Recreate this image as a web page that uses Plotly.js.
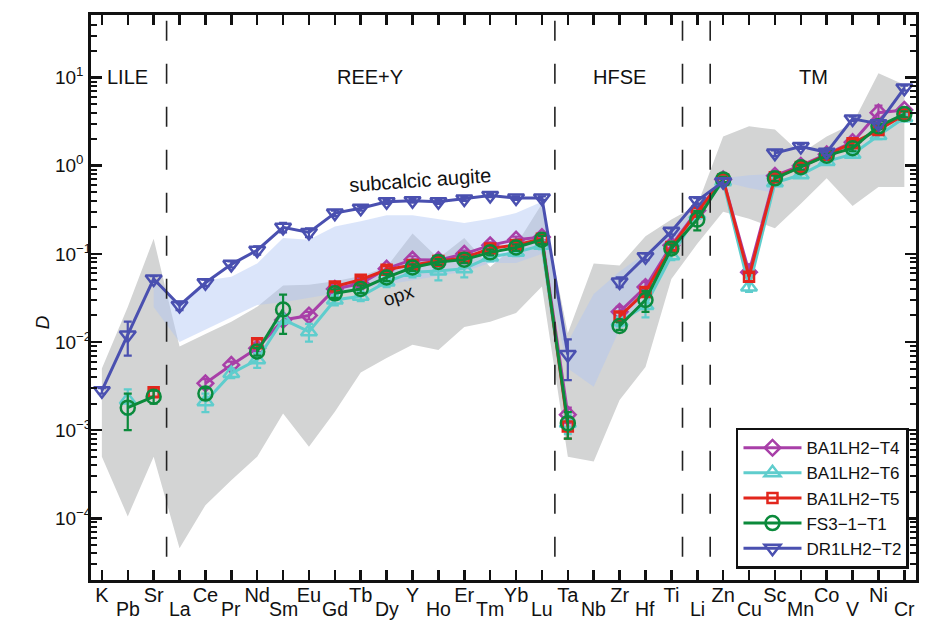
<!DOCTYPE html>
<html><head><meta charset="utf-8">
<script src="https://cdn.plot.ly/plotly-3.0.1.min.js"></script>
<style>html,body{margin:0;padding:0;background:#fff}#chart{width:927px;height:622px}</style>
</head><body><div id="chart"></div>
<script>
// ---- categories ----
const elements = ['K','Pb','Sr','La','Ce','Pr','Nd','Sm','Eu','Gd','Tb','Dy','Y','Ho','Er','Tm','Yb','Lu',
                  'Ta','Nb','Zr','Hf','Ti','Li','Zn','Cu','Sc','Mn','Co','V','Ni','Cr'];
const groupLabels = ['LILE','REE+Y','HFSE','TM'];
const groupCenters = [1, 10.35, 20, 27.5];
const groupDividers = [2.5, 17.5, 22.43, 23.5];
const yTickExponents = [-4, -3, -2, -1, 0, 1];

// ---- reference ranges (shaded) ----
const opxUpper = [0.005,0.025,0.148,0.0089,0.0123,0.017,0.0251,0.0437,0.0447,0.049,0.056,0.071,0.17,0.089,0.151,0.071,0.126,0.37,
                  0.0126,0.078,0.074,0.158,0.245,0.355,2.14,2.8,2.57,1.38,2.14,3.0,11.2,8.3];
const opxLower = [0.0005,0.000105,0.0005,0.0000457,0.000141,0.00027,0.0005,0.00155,0.00065,0.00162,0.0045,0.0066,0.0093,0.0081,0.0148,0.017,0.0214,0.0427,
                  0.0005,0.00044,0.0022,0.0052,0.052,0.13,0.30,0.25,0.195,0.37,0.72,0.35,0.575,0.575];
const augiteUpper = [null,null,0.047,0.026,0.050,0.055,0.078,0.151,0.145,0.204,0.234,0.275,0.275,0.25,0.224,0.25,0.29,0.39,
                     0.010,0.035,0.063,0.102,0.17,0.35,0.72,0.78,0.81,null,null,null,null,null];
const augiteLower = [null,null,0.025,0.010,0.0138,0.019,0.0263,0.0282,0.0316,0.0355,0.040,0.0447,0.050,0.056,0.063,0.079,0.079,0.10,
                     0.005,0.0031,0.014,0.035,0.10,0.25,0.66,0.56,0.49,null,null,null,null,null];

// ---- measured partition coefficients ----
const seriesNames = ['BA1LH2\u2212T4','BA1LH2\u2212T6','BA1LH2\u2212T5','FS3\u22121\u2212T1','DR1LH2\u2212T2'];
const dT4 = [null,null,null,null,0.0034,0.0055,0.0085,0.0178,0.020,0.040,0.046,0.068,0.086,0.085,0.100,0.125,0.145,0.155,
             0.0015,null,0.022,0.042,0.125,0.31,0.70,0.062,0.77,1.0,1.35,1.85,4.0,4.3];
const eT4 = [null,null,null,null,0.0004,0.0005,0.0008,0.002,0.002,0.004,0.004,0.006,0.008,0.007,0.009,0.010,0.012,0.013,
             0.0003,null,0.003,0.006,0.010,0.03,0.05,0.006,0.06,0.08,0.10,0.20,0.8,0.3];
const dT6 = [null,0.0022,null,null,0.0021,0.0044,0.0063,0.018,0.0131,0.030,0.033,0.048,0.062,0.064,0.068,0.092,0.104,0.125,
             0.0012,null,0.017,0.026,0.095,0.28,0.66,0.042,0.64,0.79,1.12,1.35,2.2,3.5];
const eT6 = [null,0.0007,null,null,0.0005,0.0005,0.0012,0.002,0.003,0.004,0.004,0.006,0.008,0.014,0.014,0.010,0.010,0.012,
             0.0003,null,0.002,0.007,0.010,0.03,0.05,0.005,0.05,0.06,0.08,0.10,0.2,0.3];
const dT5 = [null,null,0.0027,null,null,null,0.0097,null,null,0.0427,0.051,0.066,0.075,0.083,0.090,0.115,0.126,0.148,
             0.0011,null,0.0195,0.037,0.12,0.30,0.70,0.055,0.74,0.97,1.33,1.80,2.55,3.8];
const eT5 = [null,null,0.0003,null,null,null,0.001,null,null,0.004,0.004,0.006,0.007,0.007,0.008,0.010,0.011,0.013,
             0.0003,null,0.002,0.004,0.010,0.03,0.05,0.006,0.06,0.08,0.10,0.15,0.2,0.3];
const dFS3 = [null,0.0018,0.0024,null,0.0026,null,0.0078,0.0234,null,0.0357,0.040,0.054,0.070,0.081,0.086,0.104,0.118,0.145,
              0.0012,null,0.0152,0.030,0.115,0.245,0.70,null,0.72,0.96,1.30,1.58,2.8,3.85];
const eFS3 = [null,0.0008,0.0004,null,0.0004,null,0.0008,0.011,null,0.004,0.004,0.005,0.006,0.006,0.007,0.008,0.010,0.015,
              0.0004,null,0.0015,0.008,0.012,0.06,0.05,null,0.05,0.06,0.08,0.12,0.2,0.3];
const dDR1 = [0.0028,0.012,0.052,0.026,0.047,0.076,0.11,0.20,0.175,0.29,0.33,0.39,0.40,0.39,0.42,0.46,0.43,0.43,
              0.0072,null,0.048,0.093,0.18,0.40,0.66,null,1.39,1.65,1.42,3.4,3.0,7.6];
const eDR1 = [0.0002,0.005,0.004,0.003,0.004,0.006,0.012,0.025,0.02,0.02,0.02,0.02,0.02,0.02,0.02,0.02,0.02,0.02,
              0.0035,null,0.006,0.008,0.015,0.03,0.05,null,0.1,0.1,0.1,0.2,0.3,0.5];

const seriesData = [dT4, dT6, dT5, dFS3, dDR1];
const seriesErr = [eT4, eT6, eT5, eFS3, eDR1];
const seriesColors = ['#a83fa8','#5fcdcd','#e2261c','#0b8a3b','#4a50b0'];
const seriesSymbols = ['diamond-open','triangle-up-open','square-open','circle-open','triangle-down-open'];
const seriesSizes = [12,14,10,14,14];

// ---- build traces ----
function band(upper, lower, color) {
  const idx = elements.map((e,i)=>i).filter(i => upper[i] !== null && lower[i] !== null);
  const xs = idx.map(i=>elements[i]);
  return {
    x: xs.concat(xs.slice().reverse()),
    y: idx.map(i=>upper[i]).concat(idx.map(i=>lower[i]).reverse()),
    type:'scatter', mode:'lines', fill:'toself', fillcolor:color,
    line:{width:0, color:color}, hoverinfo:'skip', showlegend:false
  };
}
const traces = [
  band(opxUpper, opxLower, '#d3d4d4'),
  band(augiteUpper, augiteLower, 'rgba(176,198,245,0.45)')
];
seriesData.forEach((d,k)=>{
  traces.push({
    x: elements, y: d, name: seriesNames[k], type:'scatter', mode:'lines+markers',
    connectgaps:false,
    line:{color:seriesColors[k], width:3},
    marker:{symbol:seriesSymbols[k], size:seriesSizes[k], color:seriesColors[k], line:{width:2.5, color:seriesColors[k]}},
    error_y:{type:'data', array:seriesErr[k], symmetric:true, color:seriesColors[k], thickness:2.2, width:4}
  });
});

const minorVals = [];
for (let p = -5; p <= 1; p++) for (let m = 2; m <= 9; m++) minorVals.push(m*Math.pow(10,p));

const font = 'Liberation Sans, Arial, Helvetica, sans-serif';
const hidden = '<span style="color:rgba(0,0,0,0)">\u2212</span>';
const shapes = groupDividers.map(xv=>({
  type:'line', xref:'x', yref:'paper', x0:xv, x1:xv, y0:0.99, y1:0.02,
  line:{color:'#222', width:1.6, dash:'20px,23px'}
}));
const annotations = groupLabels.map((t,i)=>({
  text:t, xref:'x', yref:'paper', x:groupCenters[i], y:0.914, showarrow:false,
  font:{size:20, color:'#111', family:font}
}));
// lower (staggered) row of element labels
elements.forEach((e,i)=>{
  if (i%2===1) annotations.push({text:e, xref:'x', yref:'paper', x:e, y:0, yanchor:'middle', yshift:-29,
    borderpad:0, showarrow:false, font:{size:19.5, color:'#111', family:font}});
});
annotations.push({text:'subcalcic augite', xref:'x', yref:'y', x:12.3, y:-0.16, showarrow:false, textangle:-4,
  font:{size:20, color:'#111', family:font}});
annotations.push({text:'opx', xref:'x', yref:'y', x:11.45, y:-1.47, showarrow:false, textangle:-18,
  font:{size:19, color:'#111', family:font}});
annotations.push({text:'<i>D</i>', xref:'paper', yref:'paper', x:-0.074, y:0.457, showarrow:false, textangle:-90,
  font:{size:19, color:'#111', family:font}});

const layout = {
  width:927, height:622,
  margin:{l:91, r:11, t:15, b:42},
  paper_bgcolor:'#fff', plot_bgcolor:'#fff',
  font:{family:font, color:'#111', size:19},
  showlegend:true,
  legend:{x:0.9915, y:0.02, xanchor:'right', yanchor:'bottom', bgcolor:'#fff', bordercolor:'#111', borderwidth:2.5,
          font:{size:17, family:font}, tracegroupgap:0, itemwidth:58},
  xaxis:{
    type:'category', categoryorder:'array', categoryarray:elements,
    range:[-0.42, 31.45], showgrid:false, zeroline:false,
    showline:true, linecolor:'#111', linewidth:3, mirror:'ticks',
    ticks:'inside', ticklen:10, tickwidth:2.5, tickcolor:'#111',
    tickmode:'array', tickvals:elements, ticktext:elements.map((e,i)=>i%2===0?e:''),
    tickangle:0, tickfont:{size:20}, ticklabelstandoff:-5
  },
  yaxis:{
    type:'log', range:[-4.70, 1.71], showgrid:false, zeroline:false,
    showline:true, linecolor:'#111', linewidth:3, mirror:'ticks',
    ticks:'inside', ticklen:11, tickwidth:2.5, tickcolor:'#111',
    tickmode:'array', tickvals:yTickExponents.map(p=>Math.pow(10,p)),
    ticktext:yTickExponents.map(p=>'10<sup>'+(p<0?'\u2212'+(-p):p+hidden)+'</sup>'),
    tickfont:{size:19}, ticklabelstandoff:-7,
    minor:{tickmode:'array', tickvals:minorVals, ticks:'inside', ticklen:6, tickwidth:2, tickcolor:'#111'}
  },
  shapes:shapes,
  annotations:annotations
};
Plotly.newPlot('chart', traces, layout, {displayModeBar:false, staticPlot:true});
</script>
</body></html>
